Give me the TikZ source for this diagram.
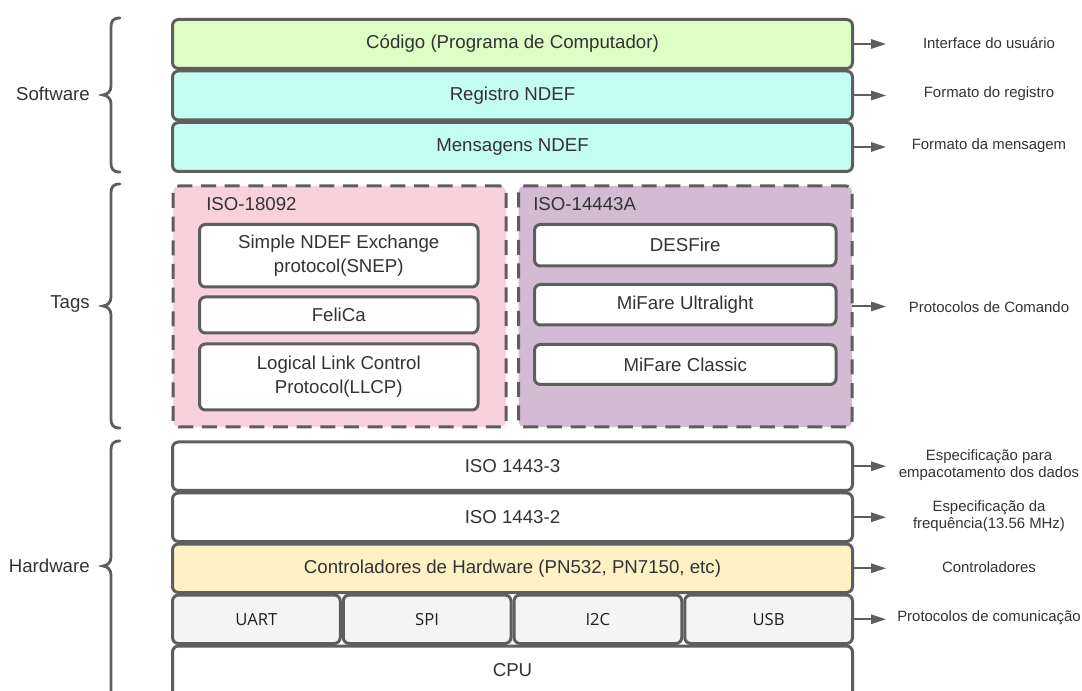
\documentclass[tikz,border=0pt]{standalone}
\usepackage{fontspec}
\setmainfont{Liberation Sans}
\newfontfamily\cellfont{Open Sans}
\usetikzlibrary{arrows.meta}
\definecolor{strk}{HTML}{5E5E5E}
\definecolor{txt}{HTML}{333333}
\definecolor{cgreen}{HTML}{DFFDC6}
\definecolor{ccyan}{HTML}{C4FDF2}
\definecolor{cpink}{HTML}{F8D1DC}
\definecolor{cpurple}{HTML}{D2BBD3}
\definecolor{cyellow}{HTML}{FFF1C6}
\definecolor{cgrey}{HTML}{F4F4F4}
\newcommand\mybrace[3]{\draw[bracest] (120,#1) .. controls (113,#1) and (111,#1+3) .. (111,#1+9) -- (111,#2-9) .. controls (111,#2-4) and (108,#2-0.5) .. (103,#2) .. controls (108,#2+0.5) and (111,#2+4) .. (111,#2+9) -- (111,#3-9) .. controls (111,#3-3) and (113,#3) .. (120,#3);}
\tikzset{
  box/.style={draw=strk, line width=2.25pt, rounded corners=4.5pt, inner sep=0pt, outer sep=0pt,
    font=\fontsize{14}{18}\selectfont, text=txt, align=center},
  sz/.style 2 args={minimum width={#1*0.75pt}, minimum height={#2*0.75pt}},
  grp/.style={box, dash pattern=on 11.25pt off 6.5pt},
  cell/.style={box, fill=cgrey, font=\cellfont\fontsize{12.5}{15}\selectfont, text=black!88},
  side/.style={font=\fontsize{14}{18}\selectfont, text=txt, anchor=east, inner sep=0pt},
  note/.style={font=\fontsize{11.2}{12.75}\selectfont, text=txt, align=center, inner sep=0pt},
  grptitle/.style={font=\fontsize{14}{18}\selectfont, text=txt, anchor=west, inner sep=0pt},
  arr/.style={draw=strk, line width=1.5pt, -{Triangle[length=11.25pt,width=7pt]}},
  bracest/.style={draw=strk, line width=2.1pt, line cap=round},
}
\begin{document}
\begin{tikzpicture}[x=0.75pt,y=-0.75pt]
\useasboundingbox (0,0) rectangle (1082,691);
\clip (0,0) rectangle (1082,691);
\fill[white] (0,0) rectangle (1082,691);
% Software
\node[box, fill=cgreen, sz={680}{49}] (cod) at (512.5,44) {Código (Programa de Computador)};
\node[box, fill=ccyan, sz={680}{49}] (reg) at (512.5,95.5) {Registro NDEF};
\node[box, fill=ccyan, sz={680}{49}] (msg) at (512.5,147) {Mensagens NDEF};
% Tags
\node[grp, fill=cpink, sz={333}{241}] (pink) at (339.5,306.5) {};
\node[grp, fill=cpurple, sz={333.5}{241}] (purple) at (685.25,306.5) {};
\node[grptitle] (t1) at (206,204) {ISO-18092};
\node[grptitle] (t2) at (533,204) {ISO-14443A};
\node[box, fill=white, sz={278.5}{62.5}] (snep) at (338.75,255.75) {Simple NDEF Exchange\\protocol(SNEP)};
\node[box, fill=white, sz={278.5}{36}] (felica) at (338.75,315) {FeliCa};
\node[box, fill=white, sz={278.5}{66}] (llcp) at (338.75,377) {Logical Link Control\\Protocol(LLCP)};
\node[box, fill=white, sz={301.5}{41.5}] (des) at (685.25,245.25) {DESFire};
\node[box, fill=white, sz={301.5}{40.5}] (ultra) at (685.25,304.75) {MiFare Ultralight};
\node[box, fill=white, sz={301.5}{40}] (classic) at (685.25,364.5) {MiFare Classic};
% Hardware
\node[box, fill=white, sz={680}{48.5}] (iso3) at (512.5,466.25) {ISO 1443-3};
\node[box, fill=white, sz={680}{48.5}] (iso2) at (512.5,517.25) {ISO 1443-2};
\node[box, fill=cyellow, sz={680}{48.5}] (ctrl) at (512.5,568.25) {Controladores de Hardware (PN532, PN7150, etc)};
\node[cell, sz={167.75}{48.5}] (uart) at (256.375,619.25) {UART};
\node[cell, sz={167.75}{48.5}] (spi) at (427.125,619.25) {SPI};
\node[cell, sz={167.75}{48.5}] (i2c) at (597.875,619.25) {I2C};
\node[cell, sz={167.75}{48.5}] (usb) at (768.625,619.25) {USB};
\node[box, fill=white, sz={680}{52}] (cpu) at (512.5,672) {\raisebox{3pt}{CPU}};
% braces and side labels
\mybrace{18}{95}{172}
\mybrace{184}{306}{428}
\mybrace{441}{566}{700}
\node[side] (lsw) at (90,94) {Software};
\node[side] (ltg) at (90,304) {Tags};
\node[side] (lhw) at (90,566) {Hardware};
% arrows and notes
\coordinate (e1) at (886,44);
\coordinate (e2) at (886,95.5);
\coordinate (e3) at (886,147);
\coordinate (e4) at (886,306.5);
\coordinate (e5) at (886,466.25);
\coordinate (e6) at (886,517.25);
\coordinate (e7) at (886,568.25);
\coordinate (e8) at (886,619.25);
\draw[arr] (cod.east) -- (e1);
\draw[arr] (reg.east) -- (e2);
\draw[arr] (msg.east) -- (e3);
\draw[arr] (purple.east) -- (e4);
\draw[arr] (iso3.east) -- (e5);
\draw[arr] (iso2.east) -- (e6);
\draw[arr] (ctrl.east) -- (e7);
\draw[arr] (usb.east) -- (e8);
\node[note] (n1) at (989,43) {Interface do usuário};
\node[note] (n2) at (989,94) {Formato do registro};
\node[note] (n3) at (989,146) {Formato da mensagem};
\node[note] (n4) at (989,307) {Protocolos de Comando};
\node[note] (n5) at (989,465) {Especificação para\\empacotamento dos dados};
\node[note] (n6) at (989,516) {Especificação da\\frequência(13.56 MHz)};
\node[note] (n7) at (989,567) {Controladores};
\node[note] (n8) at (989,618) {Protocolos de comunicação};
\end{tikzpicture}
\end{document}
